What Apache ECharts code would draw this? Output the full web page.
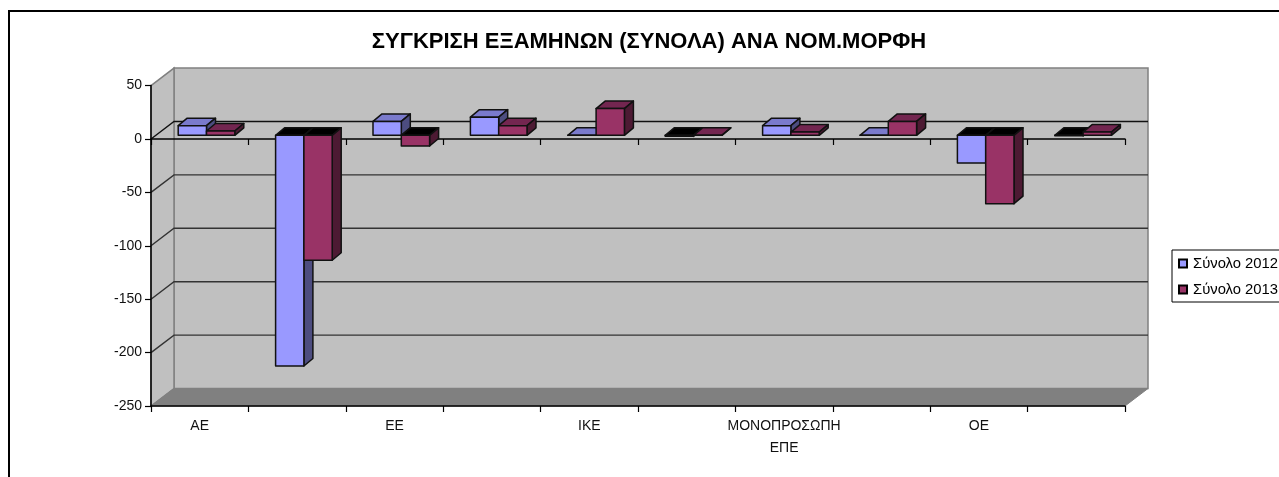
<!DOCTYPE html>
<html>
<head>
<meta charset="utf-8">
<style>
html, body { margin: 0; padding: 0; background: #fff; overflow: hidden; }
#main { width: 1279px; height: 477px; }
</style>
<script src="https://cdn.jsdelivr.net/npm/echarts@6/dist/echarts.min.js"></script>
</head>
<body>
<div id="main"></div>
<script>
// data
var categories = ['ΑΕ', '', 'ΕΕ', '', 'ΙΚΕ', '', 'ΜΟΝΟΠΡΟΣΩΠΗ\nΕΠΕ', '', 'ΟΕ', ''];
var values2012 = [9, -216, 13, 17, 0, -1, 9, 0, -26, -0.5];
var values2013 = [4, -117, -10, 9, 25, 0, 3, 13, -64, 3];
var yTicks = [50, 0, -50, -100, -150, -200, -250];

// 3d look of the old excel chart, in pixels
var WALL_DX = 23, WALL_DY = 17.5;
var BAR_WIDTH = 28.3, BAR_SHIFT_X = 6.8, BAR_SHIFT_Y = 3.7;
var BAR_DX = 9, BAR_DY = 7.5;

var FONT = '"Liberation Sans", Arial, sans-serif';

var myChart = echarts.init(document.getElementById('main'));

// walls, floor and grid lines behind the bars
function renderWalls(params, api) {
    var sys = params.coordSys;
    var left = sys.x, right = sys.x + sys.width;
    var top = sys.y, bottom = sys.y + sys.height;
    var children = [
        { type: 'rect', shape: { x: left + WALL_DX, y: top - WALL_DY, width: sys.width, height: sys.height },
          style: { fill: '#c0c0c0', stroke: '#808080', lineWidth: 1.5 } },
        { type: 'polygon', shape: { points: [[left, top], [left + WALL_DX, top - WALL_DY], [left + WALL_DX, bottom - WALL_DY], [left, bottom]] },
          style: { fill: '#c0c0c0', stroke: '#808080', lineWidth: 1.5 } },
        { type: 'polygon', shape: { points: [[left, bottom], [left + WALL_DX, bottom - WALL_DY], [right + WALL_DX, bottom - WALL_DY], [right, bottom]] },
          style: { fill: '#808080', stroke: '#808080', lineWidth: 1 } }
    ];
    for (var i = 1; i < yTicks.length - 1; i++) {
        var y = api.coord([0, yTicks[i]])[1];
        var color = yTicks[i] === 0 ? '#111' : '#333';
        children.push({ type: 'polyline', shape: { points: [[left, y], [left + WALL_DX, y - WALL_DY], [right + WALL_DX, y - WALL_DY]] },
          style: { fill: 'none', stroke: color, lineWidth: 1.4 } });
    }
    return { type: 'group', children: children };
}

// one box with front, top and side faces
function makeBar(side, front, topFace, sideFace) {
    return function (params, api) {
        var c = api.coord([api.value(0), api.value(1)]);
        var zero = api.coord([api.value(0), 0]);
        var x0 = c[0] + BAR_SHIFT_X + (side < 0 ? -BAR_WIDTH : 0);
        var x1 = x0 + BAR_WIDTH;
        var y0 = c[1] - BAR_SHIFT_Y;
        var yZero = zero[1] - BAR_SHIFT_Y;
        var upper = Math.min(y0, yZero), lower = Math.max(y0, yZero);
        var line = { stroke: '#111', lineWidth: 1.5, lineJoin: 'round' };
        return {
            type: 'group',
            children: [
                { type: 'polygon', shape: { points: [[x0, upper], [x0 + BAR_DX, upper - BAR_DY], [x1 + BAR_DX, upper - BAR_DY], [x1, upper]] },
                  style: Object.assign({ fill: api.value(1) < 0 ? '#000' : topFace }, line) },
                { type: 'polygon', shape: { points: [[x1, upper], [x1 + BAR_DX, upper - BAR_DY], [x1 + BAR_DX, lower - BAR_DY], [x1, lower]] },
                  style: Object.assign({ fill: sideFace }, line) },
                { type: 'rect', shape: { x: x0, y: upper, width: BAR_WIDTH, height: lower - upper },
                  style: Object.assign({ fill: front }, line) }
            ]
        };
    };
}

function toData(values) {
    var out = [];
    for (var i = 0; i < values.length; i++) {
        out.push([i, values[i]]);
    }
    return out;
}

var option = {
    animation: false,
    backgroundColor: '#fff',
    textStyle: { fontFamily: FONT },
    title: {
        text: 'ΣΥΓΚΡΙΣΗ ΕΞΑΜΗΝΩΝ (ΣΥΝΟΛΑ) ΑΝΑ ΝΟΜ.ΜΟΡΦΗ',
        left: 644, top: 26, textAlign: 'center',
        textStyle: { fontFamily: FONT, fontSize: 22, fontWeight: 'bold', color: '#000' }
    },
    legend: {
        left: 1172, top: 250, orient: 'vertical', icon: 'rect', itemWidth: 8, itemHeight: 8, itemGap: 11,
        padding: [6, 4, 5, 6], borderColor: '#000', borderWidth: 1, backgroundColor: '#fff',
        data: ['Σύνολο 2012', 'Σύνολο 2013'],
        textStyle: { fontFamily: FONT, fontSize: 14.8, color: '#000', padding: [0, 0, 0, 1] }
    },
    grid: { left: 151, right: 154, top: 85.6, bottom: 71 },
    xAxis: [
        {
            type: 'category', data: categories, position: 'bottom', z: 3,
            axisLine: { onZero: false, lineStyle: { color: '#000', width: 1.5 } },
            axisTick: { show: true, interval: 0, length: 6, lineStyle: { color: '#000', width: 1.2 } },
            axisLabel: { interval: 0, margin: 9, fontFamily: FONT, fontSize: 14, lineHeight: 22, color: '#111', verticalAlign: 'top' },
            splitLine: { show: false }
        },
        {
            // zero line of the value axis, ticks only
            type: 'category', data: categories, z: 3,
            axisLine: { onZero: true, lineStyle: { color: '#000', width: 1.5 } },
            axisTick: { show: true, interval: 0, inside: true, length: 6, lineStyle: { color: '#000', width: 1.2 } },
            axisLabel: { show: false },
            splitLine: { show: false }
        }
    ],
    yAxis: {
        type: 'value', min: -250, max: 50, interval: 50, z: 3,
        axisLine: { show: true, lineStyle: { color: '#000', width: 1.5 } },
        axisTick: { show: true, length: 6, lineStyle: { color: '#000', width: 1.2 } },
        axisLabel: { fontFamily: FONT, fontSize: 14, color: '#111', margin: 9 },
        splitLine: { show: false }
    },
    graphic: [{
        type: 'rect', z: 0, silent: true,
        shape: { x: 9, y: 11, width: 1300, height: 500 },
        style: { fill: 'none', stroke: '#000', lineWidth: 2 }
    }],
    series: [
        { type: 'custom', name: 'walls', z: 1, silent: true, renderItem: renderWalls, data: [[0, 0]],
          encode: { x: 0, y: 1 } },
        { type: 'custom', name: 'Σύνολο 2012', z: 4, renderItem: makeBar(-1, '#9999ff', '#7a7acc', '#4d4d80'),
          data: toData(values2012), encode: { x: 0, y: 1 },
          itemStyle: { color: '#9999ff', borderColor: '#000', borderWidth: 1 } },
        { type: 'custom', name: 'Σύνολο 2013', z: 4, renderItem: makeBar(1, '#993366', '#732650', '#4d1a33'),
          data: toData(values2013), encode: { x: 0, y: 1 },
          itemStyle: { color: '#993366', borderColor: '#000', borderWidth: 1 } }
    ]
};

myChart.setOption(option);
</script>
</body>
</html>
